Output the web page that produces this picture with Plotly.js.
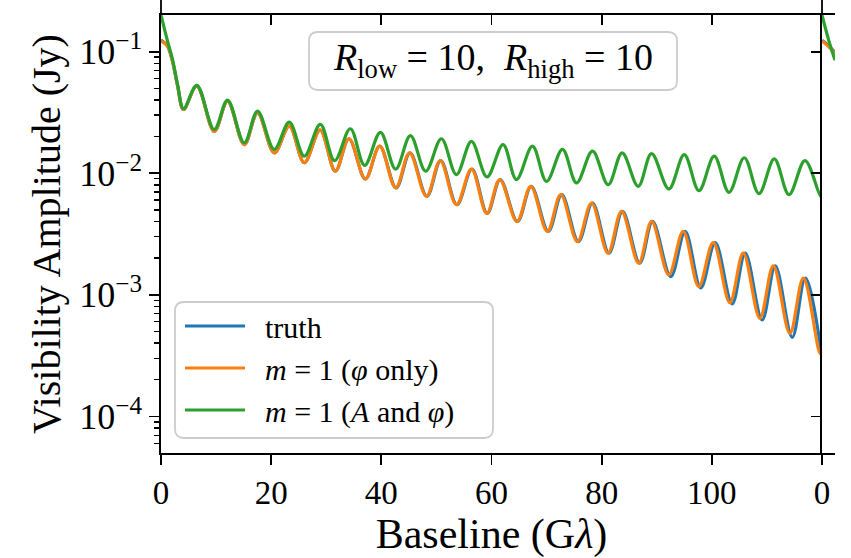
<!DOCTYPE html>
<html>
<head>
<meta charset="utf-8">
<script src="https://cdn.plot.ly/plotly-3.0.1.min.js"></script>
<style>html,body{margin:0;padding:0;background:#fff;}#chart{width:851px;height:558px;}</style>
</head>
<body>
<div id="chart"></div>
<script>
// ---- data (baseline in Gλ, amplitude in Jy) ----
const truthX = [0, 1.18, 2.09, 3.0, 4.09, 6.50, 9.67, 12.08, 15.12, 17.53, 20.57, 23.29, 26.02, 28.89, 31.65, 34.12, 37.10, 39.70, 42.69, 45.21, 48.27, 50.78, 53.72, 56.45, 59.23, 61.58, 64.71, 67.21, 70.32, 72.75, 75.77, 78.33, 81.33, 83.78, 86.91, 89.24, 92.54, 95.16, 98.00, 100.61, 103.69, 106.06, 109.14, 111.52, 114.59, 116.97, 120];
const truthY = [0.1246, 0.111, 0.0832, 0.0528, 0.0334, 0.0522, 0.0221, 0.0391, 0.0172, 0.0314, 0.0147, 0.0244, 0.0122, 0.0226, 0.0104, 0.0192, 0.00897, 0.0167, 0.00756, 0.0147, 0.00645, 0.0127, 0.00551, 0.0108, 0.00467, 0.00886, 0.00401, 0.00780, 0.00332, 0.00666, 0.00274, 0.00569, 0.00220, 0.00485, 0.00182, 0.00401, 0.00141, 0.00332, 0.00114, 0.00269, 0.000841, 0.00220, 0.000621, 0.00173, 0.000447, 0.00137, 0.000308];

const phiX = [0, 1.18, 2.09, 3.0, 4.09, 6.50, 9.67, 12.08, 15.12, 17.53, 20.57, 23.29, 26.02, 28.89, 31.65, 34.12, 37.10, 39.70, 42.60, 45.12, 48.18, 50.69, 53.63, 56.36, 59.14, 61.49, 64.62, 67.12, 70.14, 72.57, 75.59, 78.15, 81.15, 83.60, 86.73, 89.06, 92.18, 94.80, 97.63, 100.25, 103.27, 105.70, 108.72, 111.16, 114.17, 116.61, 119.64, 120];
const phiY = [0.1223, 0.111, 0.0832, 0.0528, 0.0334, 0.0522, 0.0221, 0.0391, 0.0172, 0.0314, 0.0147, 0.0244, 0.0122, 0.0226, 0.0104, 0.0192, 0.00897, 0.0167, 0.00756, 0.0147, 0.00645, 0.0127, 0.00551, 0.0108, 0.00467, 0.00886, 0.00401, 0.00780, 0.00332, 0.00666, 0.00274, 0.00569, 0.00220, 0.00485, 0.00182, 0.00401, 0.00146, 0.00332, 0.00117, 0.00269, 0.000862, 0.00220, 0.000641, 0.00173, 0.000482, 0.00137, 0.000330, 0.000365];

const ampX = [0, 1.18, 2.09, 3.0, 4.09, 6.50, 9.67, 12.08, 15.12, 17.53, 20.57, 23.29, 26.02, 28.92, 31.52, 34.37, 36.97, 39.83, 42.60, 45.28, 48.05, 50.91, 53.63, 56.36, 59.19, 62.10, 64.53, 67.44, 69.99, 72.89, 75.44, 78.34, 81.18, 83.72, 86.63, 89.06, 92.21, 94.99, 97.66, 100.44, 103.11, 105.89, 108.56, 111.34, 114.01, 116.91, 119.77, 120];
const ampY = [0.2, 0.1223, 0.0864, 0.0537, 0.0339, 0.0528, 0.0229, 0.0399, 0.0178, 0.0324, 0.0157, 0.0263, 0.0138, 0.0252, 0.0127, 0.0232, 0.0116, 0.0217, 0.0108, 0.0204, 0.0104, 0.0192, 0.00974, 0.0183, 0.00932, 0.0172, 0.00886, 0.0167, 0.00857, 0.0157, 0.00832, 0.0152, 0.00805, 0.0147, 0.00780, 0.0145, 0.00742, 0.0142, 0.00718, 0.0138, 0.00696, 0.0134, 0.00679, 0.0131, 0.00666, 0.0127, 0.00645, 0.0066];

// start of the neighbouring panel, visible at the right edge
const nextX = [0, 1.2, 2.36];
const nextTruthY = [0.124, 0.112, 0.098];
const nextPhiY = [0.122, 0.110, 0.096];
const nextAmpY = [0.2, 0.125, 0.085];

const xTickVals = [0, 20, 40, 60, 80, 100];
const topTickVals = [0, 20, 40, 60, 80, 100, 120];
const nextTickVals = [0];
const yTickVals = [1e-4, 1e-3, 1e-2, 1e-1];
const yTickText = ['10<sup>−4</sup>', '10<sup>−3</sup>', '10<sup>−2</sup>', '10<sup>−1</sup>'];
const yMinorTickVals = [6e-5, 7e-5, 8e-5, 9e-5,
  2e-4, 3e-4, 4e-4, 5e-4, 6e-4, 7e-4, 8e-4, 9e-4,
  2e-3, 3e-3, 4e-3, 5e-3, 6e-3, 7e-3, 8e-3, 9e-3,
  2e-2, 3e-2, 4e-2, 5e-2, 6e-2, 7e-2, 8e-2, 9e-2];

const seriesNames = ['truth', '<i>m</i> = 1 (<i>φ</i> only)', '<i>m</i> = 1 (<i>A</i> and <i>φ</i>)'];
const colors = ['#1f77b4', '#ff7f0e', '#2ca02c'];
const boxLabel = '<i>R</i><sub>low</sub> = 10,  <i>R</i><sub>high</sub> = 10';

// ---- figure ----
const LW = 3.2;
const mk = (x, y, name, color, extra) => Object.assign({
  x: x, y: y, name: name, type: 'scatter', mode: 'lines',
  line: {color: color, width: LW, shape: 'spline', smoothing: 1},
  hoverinfo: 'skip'
}, extra || {});

const pad = '\u2002';
const traces = [
  mk(truthX, truthY, pad + seriesNames[0], colors[0]),
  mk(phiX, phiY, pad + seriesNames[1], colors[1]),
  mk(ampX, ampY, pad + seriesNames[2], colors[2]),
  mk(nextX, nextTruthY, '', colors[0], {xaxis: 'x3', yaxis: 'y2', showlegend: false}),
  mk(nextX, nextPhiY, '', colors[1], {xaxis: 'x3', yaxis: 'y2', showlegend: false}),
  mk(nextX, nextAmpY, '', colors[2], {xaxis: 'x3', yaxis: 'y2', showlegend: false}),
  {x: [null], y: [null], xaxis: 'x2', yaxis: 'y', type: 'scatter', mode: 'lines', showlegend: false, hoverinfo: 'skip'}
];

const W = 851, H = 558, ML = 161, MR = 16, MT = 15, MB = 105;
const PW = W - ML - MR, PH = H - MT - MB;
const split = (822 - ML) / PW;
const yRange = [Math.log10(5e-5), Math.log10(0.2)];
const AX = 'black', ALW = 1.8;

function rounded(x0, y0, x1, y1, rpx) {
  const rx = rpx / PW, ry = rpx / PH;
  return `M${x0 + rx},${y0} L${x1 - rx},${y0} Q${x1},${y0} ${x1},${y0 + ry} L${x1},${y1 - ry} Q${x1},${y1} ${x1 - rx},${y1} L${x0 + rx},${y1} Q${x0},${y1} ${x0},${y1 - ry} L${x0},${y0 + ry} Q${x0},${y0} ${x0 + rx},${y0} Z`;
}
const px2x = p => (p - ML) / PW;
const py2y = p => (H - MB - p) / PH;

const common = {showgrid: false, zeroline: false, showline: true, linecolor: AX, linewidth: ALW, tickcolor: AX, tickwidth: ALW};

const layout = {
  width: W, height: H,
  margin: {l: ML, r: MR, t: MT, b: MB, pad: 0},
  paper_bgcolor: 'white', plot_bgcolor: 'white',
  font: {family: 'Liberation Serif, serif', color: 'black', size: 33},
  showlegend: true,
  xaxis: Object.assign({}, common, {
    domain: [0, split], range: [0, 120], anchor: 'y',
    tickmode: 'array', tickvals: xTickVals, ticks: 'outside', ticklen: 10,
    tickfont: {size: 33},
    title: {text: 'Baseline (G<i>λ</i>)', font: {size: 42}, standoff: 8}
  }),
  xaxis2: Object.assign({}, common, {
    overlaying: 'x', side: 'top', anchor: 'y', range: [0, 120],
    tickmode: 'array', tickvals: topTickVals, ticks: 'inside', ticklen: 10, showticklabels: false
  }),
  yaxis: Object.assign({}, common, {
    type: 'log', range: yRange, anchor: 'x',
    tickmode: 'array', tickvals: yTickVals, ticktext: yTickText, ticks: 'outside', ticklen: 10,
    tickfont: {size: 36},
    minor: {tickmode: 'array', tickvals: yMinorTickVals, ticks: 'outside', ticklen: 5.5, tickcolor: AX, tickwidth: 1.4, showgrid: false},
    title: {text: 'Visibility Amplitude (Jy)', font: {size: 40}, standoff: 6}
  }),
  xaxis3: Object.assign({}, common, {
    domain: [split, 1], range: [0, 2.36], anchor: 'y2', mirror: true,
    tickmode: 'array', tickvals: nextTickVals, ticks: 'outside', ticklen: 10,
    tickfont: {size: 33}
  }),
  yaxis2: Object.assign({}, common, {
    type: 'log', range: yRange, anchor: 'x3', side: 'left',
    tickmode: 'array', tickvals: yTickVals, ticks: 'outside', ticklen: 9, showticklabels: false
  }),
  legend: {
    x: px2x(180), y: py2y(300), xanchor: 'left', yanchor: 'top',
    bgcolor: 'rgba(0,0,0,0)', borderwidth: 0,
    font: {size: 30}, itemwidth: 60, tracegroupgap: 0
  },
  shapes: [
    {type: 'path', xref: 'paper', yref: 'paper', layer: 'above',
     path: rounded(px2x(175), py2y(438), px2x(493), py2y(302), 9),
     line: {color: '#cccccc', width: 1.8}, fillcolor: 'rgba(255,255,255,0.8)'},
    {type: 'path', xref: 'paper', yref: 'paper', layer: 'above',
     path: rounded(px2x(309), py2y(90), px2x(677), py2y(32), 9),
     line: {color: '#cccccc', width: 1.8}, fillcolor: 'rgba(255,255,255,0.8)'},
    {type: 'line', xref: 'paper', yref: 'paper', x0: 0, x1: 0, y0: 1, y1: 1 + MT / PH, line: {color: AX, width: ALW}},
    {type: 'line', xref: 'paper', yref: 'paper', x0: split, x1: split, y0: 1, y1: 1 + MT / PH, line: {color: AX, width: ALW}}
  ],
  annotations: [
    {xref: 'paper', yref: 'paper', x: px2x(493), y: py2y(60), xanchor: 'center', yanchor: 'middle',
     text: boxLabel, showarrow: false, font: {size: 38}}
  ]
};

Plotly.newPlot('chart', traces, layout, {displayModeBar: false, staticPlot: true});
</script>
</body>
</html>
